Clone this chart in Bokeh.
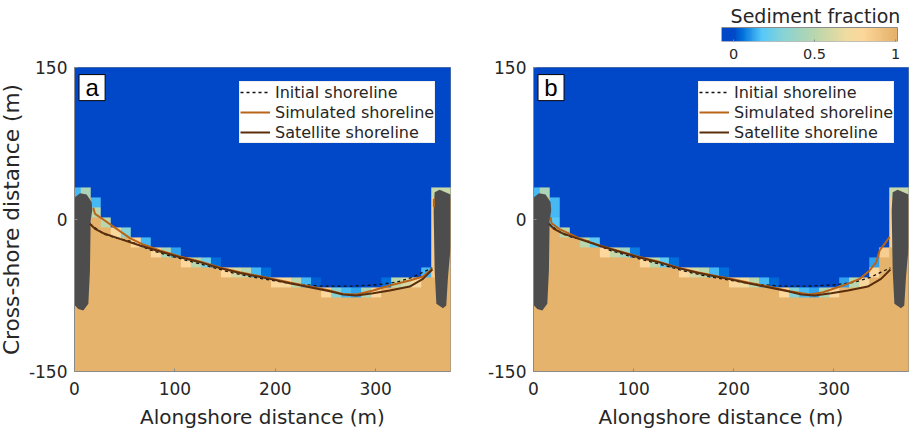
import numpy as np
from bokeh.plotting import figure
from bokeh.layouts import column, row
from bokeh.core.properties import value
from bokeh.models import LinearColorMapper, Legend, LegendItem
from bokeh.embed import file_html
from bokeh.resources import INLINE

FONT = "DejaVu Sans"
WATER = "#0048c8"
SAND = "#e5b36b"
DARK = "#4d4d4d"
TEXT = "#262626"
AXIS = "#8a8a8a"

cmap_values = [0, .05, .17, .3, .5, .7, .8, 1]
cmap_colors = ["#0048c8", "#0070dc", "#55c8fa", "#86d3d6", "#b9d6ad", "#f0dca0", "#fdd79b", "#e5b36b"]

x_ticks = [0, 100, 200, 300]
y_ticks = [-150, 0, 150]
cb_ticks = [0, 0.5, 1]

cell_dx, cell_dy = 9.95, 9.87
grid_left, grid_row0_top = -3.8, 31.6

# first fully sandy row of each column
first_sand_a = [1, 1, 3, 4, 5, 5, 6, 6, 7, 7, 7, 8, 8, 8, 8, 9, 9, 9, 9, 9, 10, 10, 10, 10, 10,
                11, 11, 11, 11, 11, 11, 10, 10, 10, 10, 9, 9, 1, 1]
first_sand_b = [1, 1, 4, 5, 5, 6, 6, 7, 7, 7, 7, 8, 8, 8, 8, 9, 9, 9, 9, 9, 10, 10, 10, 10, 10,
                11, 11, 11, 11, 11, 11, 10, 10, 10, 9, 7, 6, 1, 1]
# partial cells: row -> {column: fraction}
partial_a = {
    0: {0: .15, 1: .45, 36: .55, 37: .55, 38: .55},
    1: {2: .15, 36: .85}, 2: {2: .5, 36: .85}, 3: {3: .5, 36: .85},
    4: {4: .75, 5: .3, 36: .85}, 5: {6: .8, 7: .15, 36: .85},
    6: {8: .8, 9: .45, 10: .12, 36: .85},
    7: {11: .8, 12: .5, 13: .25, 14: .05, 36: .85},
    8: {15: .8, 16: .6, 17: .5, 18: .15, 19: .05, 35: .15, 36: .85},
    9: {20: .8, 21: .75, 22: .5, 23: .15, 24: .03, 31: .05, 32: .5, 33: .6, 34: .75},
    10: {25: .8, 26: .3, 27: .15, 28: .12, 29: .45, 30: .8},
}
partial_b = {
    0: {0: .15, 1: .45, 36: .55, 37: .55, 38: .55},
    1: {2: .15, 36: .85}, 2: {2: .15, 36: .85}, 3: {2: .18, 36: .85},
    4: {3: .5, 36: .85}, 5: {5: .5, 6: .2, 36: .85},
    6: {7: .8, 8: .55, 9: .4, 10: .07, 35: .85},
    7: {11: .8, 12: .5, 13: .2, 14: .05, 34: .12},
    8: {15: .8, 16: .6, 17: .5, 18: .15, 19: .05, 34: .8},
    9: {20: .8, 21: .7, 22: .5, 23: .15, 24: .04, 31: .12, 32: .5, 33: .75},
    10: {25: .8, 26: .3, 27: .15, 28: .12, 29: .45, 30: .8},
}

struct_left_x = [0.5, 5.5, 12.1, 17.1, 17.7, 16.1, 15.4, 13.8, 8.8, 3.8, 0.5]
struct_left_y = [22, 26, 24.7, 17.1, 9, -1, -50.3, -83.2, -89.8, -88.2, -84.9]
struct_right_x = [358.7, 363.7, 374.6, 374.6, 372, 370.3, 367, 360.4, 358.7, 357.7]
struct_right_y = [27, 29.3, 24.7, -27.3, -56.9, -84.9, -87.5, -83.2, -50.3, 9]

init_x = [15.4, 28.7, 42, 55.2, 75.1, 95, 115, 134.9, 154.8, 174.6, 194.5, 214.4, 227.6, 247.5,
          274.1, 300.6, 320.5, 337, 347.1, 356.4]
init_y = [-4.3, -14.2, -18.4, -21.4, -30, -35.9, -41.2, -46.5, -52, -56.3, -59.6, -62.9, -64.2, -65.8,
          -65.8, -64.5, -61.9, -56.9, -52, -47.7]
sat_x = [15.4, 20.4, 28.7, 45.3, 65.2, 85.1, 105, 124.9, 144.8, 164.7, 174.6, 194.5, 214.4, 234.3,
         254.2, 267.5, 280.8, 297.4, 314, 333.9, 347.1, 356.4]
sat_y = [-4.3, -9.2, -13.5, -19.1, -25.7, -31.6, -37.2, -42.1, -48, -52.7, -54.7, -58.6, -62.9, -66.8,
         -70.8, -74.1, -75, -72.8, -70.1, -66.2, -58.6, -49.4]
sim_a_x = [18.7, 20.4, 28.7, 42, 55.2, 68.5, 85.1, 105, 124.9, 144.8, 164.7, 174.6, 194.5, 214.4, 234.3,
           254.2, 267.5, 280.8, 297.4, 314, 333.9, 347.1, 356.4]
sim_a_y = [11.5, 5.6, 0, -9.2, -18.4, -24.7, -30.6, -36.5, -41.5, -47.4, -52, -54, -57.9, -62.2, -66.2,
           -70.1, -73.4, -74.1, -70.1, -65.2, -60.2, -56.3, -48.7]
sim_a_stub_x = [358, 358]
sim_a_stub_y = [20.4, 12.2]
sim_b_x = [17.2, 17.9, 25.5, 45.4, 65.3, 85.2, 105, 124.9, 144.8, 164.7, 184.7, 194.5, 214.4, 234.3,
           256, 275.9, 289.2, 309.1, 325.7, 335.7, 342.3, 345.7, 350.6, 355.6]
sim_b_y = [2.3, -3.6, -9.2, -18.4, -25.3, -31, -36.8, -41.7, -47.6, -52.3, -56.3, -57.9, -62.2, -66.2,
           -70.8, -74.1, -71.8, -65.2, -58.6, -50.3, -42.1, -30.6, -24, -17.4]

legend_labels = ["Initial shoreline", "Simulated shoreline", "Satellite shoreline"]
colorbar_title = "Sediment fraction"
SIM_C, SAT_C = "#b8651a", "#5a2d0c"


def hex_rgb(c):
    return [int(c[i:i + 2], 16) for i in (1, 3, 5)]


v = np.linspace(0, 1, 256)
rgb = np.array([hex_rgb(c) for c in cmap_colors])
palette = ["#%02x%02x%02x" % tuple(int(round(np.interp(t, cmap_values, rgb[:, i]))) for i in range(3)) for t in v]
mapper = LinearColorMapper(palette=palette, low=0, high=1)


def build_matrix(first, partial):
    top_rows, n_rows = 13, 33
    m = np.zeros((n_rows, len(first)))
    for k, f in enumerate(first):
        m[top_rows + f:, k] = 1
    for j, cells in partial.items():
        for k, val in cells.items():
            m[top_rows + j, k] = val
    return m[::-1], grid_row0_top + top_rows * cell_dy, n_rows


TOP_OVERLAP = 12
LEFT_BLEED = 6


def panel(first, partial, sim_x, sim_y, letter, left, right, y_title, stub=None):
    p = figure(width=left + 376 + right, height=364 + TOP_OVERLAP, x_range=(0, 374.5), y_range=(-150, 150),
               min_border_left=left, min_border_right=right, min_border_top=TOP_OVERLAP, min_border_bottom=60,
               toolbar_location=None, output_backend="svg", background_fill_color=WATER,
               border_fill_alpha=0, outline_line_color=AXIS)
    m, top, n = build_matrix(first, partial)
    p.image(image=[m], x=grid_left, y=top - n * cell_dy, dw=len(first) * cell_dx, dh=n * cell_dy,
            color_mapper=mapper)
    p.patch(struct_left_x, struct_left_y, color=DARK, line_width=0)
    p.patch(struct_right_x, struct_right_y, color=DARK, line_width=0)
    r0 = p.line(init_x, init_y, line_color="#111111", line_width=1.3, line_dash="3 3")
    r1 = p.line(sim_x, sim_y, line_color=SIM_C, line_width=2)
    if stub:
        p.line(stub[0], stub[1], line_color=SIM_C, line_width=2)
    r2 = p.line(sat_x, sat_y, line_color=SAT_C, line_width=2)
    leg = Legend(items=[LegendItem(label=l, renderers=[r]) for l, r in zip(legend_labels, [r0, r1, r2])],
                 location=(165, 228), margin=0, padding=0, spacing=0, glyph_width=30, glyph_height=20,
                 label_height=20, label_standoff=5, label_text_font=FONT, label_text_font_size="16px",
                 label_text_color=TEXT, border_line_color="#dddddd", background_fill_alpha=1)
    p.add_layout(leg)
    p.quad(left=[4.5], right=[30.5], top=[143], bottom=[117.3], fill_color="white", line_color="black", line_width=1)
    p.text(x=[17.5], y=[130], text=[letter], text_align="center", text_baseline="middle",
           text_font=value("Liberation Sans"), text_font_size=value("24px"), text_color="black")
    p.grid.visible = False
    for ax in (p.xaxis[0], p.yaxis[0]):
        ax.axis_line_color = AXIS
        ax.major_tick_line_color = AXIS
        ax.major_tick_in = 3
        ax.major_tick_out = 0
        ax.minor_tick_line_color = None
        ax.major_label_text_font = FONT
        ax.major_label_text_font_size = "17px"
        ax.major_label_text_color = TEXT
        ax.axis_label_text_font = FONT
        ax.axis_label_text_font_style = "normal"
        ax.axis_label_text_color = TEXT
    p.xaxis[0].axis_label_text_font_size = "20px"
    p.yaxis[0].axis_label_text_font_size = "21.7px"
    p.xaxis[0].ticker = x_ticks
    p.yaxis[0].ticker = y_ticks
    p.yaxis[0].major_label_overrides = {t: str(t) for t in y_ticks}
    p.yaxis[0].major_label_orientation = "horizontal"
    p.xaxis[0].axis_label = "Alongshore distance (m)"
    p.xaxis[0].axis_label_standoff = 7
    p.xaxis[0].major_label_standoff = 10
    p.yaxis[0].major_label_standoff = 7
    if y_title:
        p.yaxis[0].axis_label = y_title
        p.yaxis[0].axis_label_standoff = 2
    return p


a = panel(first_sand_a, partial_a, sim_a_x, sim_a_y, "a", 74 + LEFT_BLEED, 34, "Cross-shore distance (m)", (sim_a_stub_x, sim_a_stub_y))
b = panel(first_sand_b, partial_b, sim_b_x, sim_b_y, "b", 48, 1, None)

cb_low, cb_high, cb_frame_high = -0.074, 1.012, 1.086
cb_bar_units = 41 / 14
cb = figure(width=909, height=67, x_range=(cb_low, cb_frame_high), y_range=(0, cb_bar_units),
            min_border_left=721, min_border_right=0, min_border_top=0, min_border_bottom=26,
            toolbar_location=None, output_backend="svg", outline_line_color=None)
cb.image(image=[np.linspace(cb_low, cb_high, 256)[None, :]], x=cb_low, y=0, dw=cb_high - cb_low, dh=1, color_mapper=mapper)
cb.quad(left=[cb_low], right=[cb_high], bottom=[0], top=[1], fill_color=None, line_color=AXIS, line_width=1)
cb.text(x=[0.506], y=[1.857], text=[colorbar_title], text_align="center", text_baseline="alphabetic",
        text_font=value(FONT), text_font_size=value("19px"), text_color=TEXT)
cb.grid.visible = False
cb.yaxis.visible = False
ax = cb.xaxis[0]
ax.ticker = cb_ticks
ax.major_label_overrides = {0: "0", 0.5: "0.5", 1: "1"}
ax.major_label_text_font = FONT
ax.major_label_text_font_size = "14.5px"
ax.major_label_text_color = TEXT
ax.axis_line_color = None
ax.major_tick_in = 2
ax.major_tick_out = 0
ax.major_tick_line_color = AXIS
ax.minor_tick_line_color = None
ax.major_label_standoff = 7

page = column(cb, row(a, b, spacing=0, margin=(-TOP_OVERLAP, 0, 0, -LEFT_BLEED)), spacing=0)
open("out.html", "w").write(file_html(page, INLINE))
